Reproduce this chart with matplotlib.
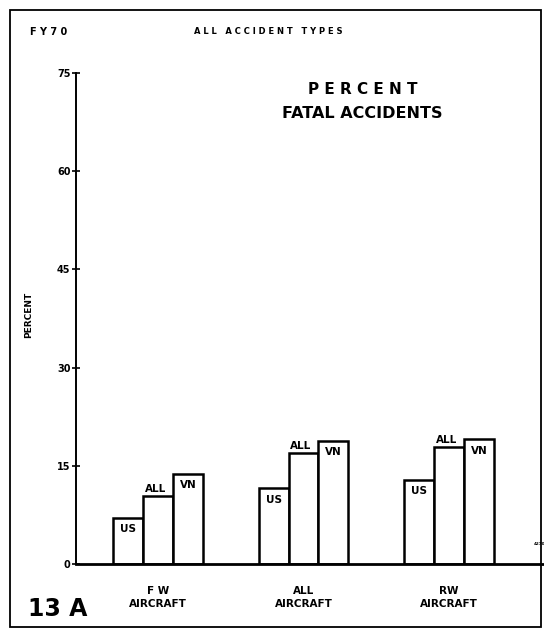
import matplotlib
matplotlib.use("Agg")
import matplotlib.pyplot as plt
from matplotlib.patches import Rectangle
import numpy as np

groups = ["F W\nAIRCRAFT", "ALL\nAIRCRAFT", "RW\nAIRCRAFT"]
series = ["US", "ALL", "VN"]
us_vals = [7.1, 11.6, 12.9]
all_vals = [10.4, 16.9, 17.8]
vn_vals = [13.8, 18.8, 19.1]
yticks = [0, 15, 30, 45, 60, 75]

FONT = ["DejaVu Sans"]
plt.rcParams['font.family'] = FONT
plt.rcParams['font.weight'] = 'bold'

W, H = 544, 630
fig = plt.figure(figsize=(W / 100, H / 100), dpi=100)
fig.patch.set_facecolor("white")

# axes: left spine x=76, zero at y=564, 75 at y=73, to right edge
ax = fig.add_axes([76 / W, (H - 564) / H, (W - 76) / W, (564 - 73) / H])
ax.set_facecolor("white")

w = 0.206
x = np.arange(len(groups))
vals = [us_vals, all_vals, vn_vals]
for i, (name, v) in enumerate(zip(series, vals)):
    xs = x + (i - 1) * w
    ax.bar(xs, v, width=w, facecolor="white", edgecolor="black", linewidth=1.8, zorder=2)
    for xi, vi in zip(xs, v):
        if name == "ALL":
            ax.text(xi - 0.02, vi + 0.35, name, ha="center", va="bottom", fontsize=7.5,
                    fontweight="bold", zorder=3)
        else:
            ax.text(xi, vi - 1.0, name, ha="center", va="top", fontsize=7.5,
                    fontweight="bold", zorder=3)

ax.set_xlim(-0.5636, 2.653)
ax.set_ylim(0, 75)
ax.set_yticks(yticks)
ax.set_yticklabels([str(t) for t in yticks], fontsize=7, fontweight="bold")
ax.tick_params(axis="y", direction="inout", length=6, width=1.2, pad=1)
ax.set_xticks([])
for s in ["top", "right"]:
    ax.spines[s].set_visible(False)
ax.spines["left"].set_linewidth(1.4)
ax.spines["bottom"].set_linewidth(2.0)

for xi, g in zip(x, groups):
    ax.text(xi, -3.4, g, ha="center", va="top", fontsize=7.5, fontweight="bold",
            linespacing=1.3)

ax.text(2.62, 3.0, "4270", fontsize=3, ha="center", va="center")

# figure-level texts (pixel coords)
def ftext(px, py, s, **kw):
    fig.text(px / W, 1 - py / H, s, **kw)

ftext(30, 32, "F Y 7 0", ha="left", va="center", fontsize=7, fontweight="bold")
ftext(268, 32, "A L L   A C C I D E N T   T Y P E S", ha="center", va="center",
      fontsize=6.0, fontweight="bold")
ftext(363, 89, "P E R C E N T", ha="center", va="center", fontsize=11, fontweight="bold")
ftext(362, 114, "FATAL ACCIDENTS", ha="center", va="center", fontsize=11.5,
      fontweight="bold")
ftext(29, 315, "PERCENT", ha="center", va="center", rotation=90, fontsize=6.5,
      fontweight="bold")
ftext(28, 609, "13 A", ha="left", va="center", fontsize=17, fontweight="bold")

fig.add_artist(Rectangle((10 / W, 1 - 627 / H), (541 - 10) / W, (627 - 10) / H,
                         transform=fig.transFigure, fill=False, edgecolor="black",
                         linewidth=1.3))

fig.savefig("out.png", dpi=100, facecolor="white")
